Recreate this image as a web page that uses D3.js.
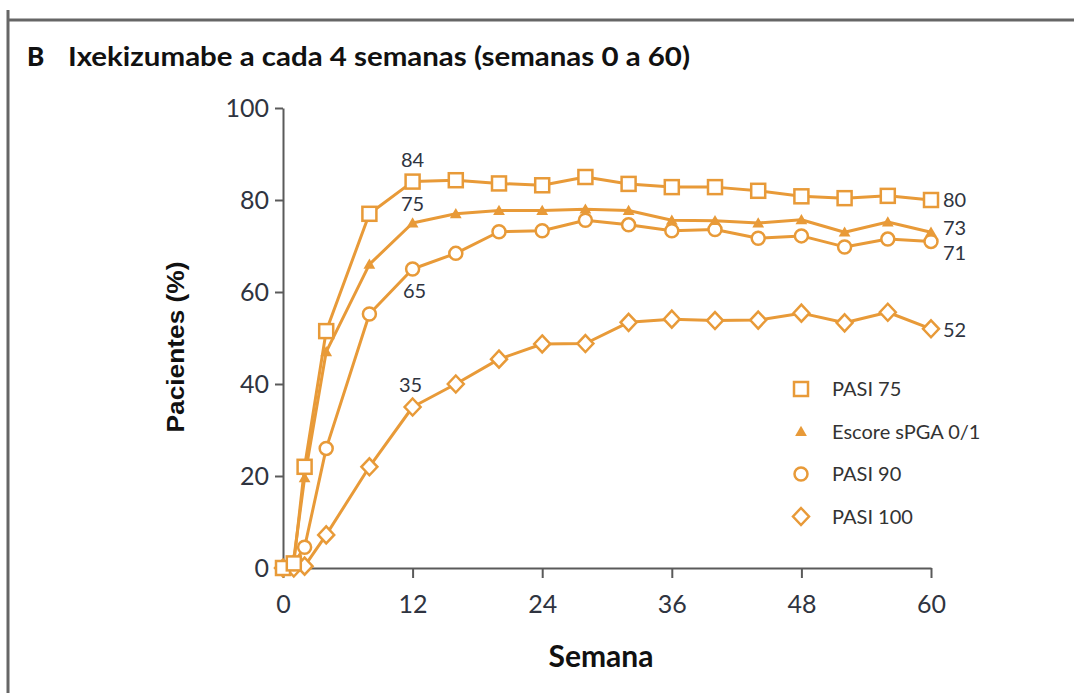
<!DOCTYPE html>
<html>
<head>
<meta charset="utf-8">
<script src="https://cdn.jsdelivr.net/npm/d3@7"></script>
<style>
  html, body { margin: 0; padding: 0; background: #fff; }
  svg { display: block; }
</style>
</head>
<body>
<svg id="chart" width="1074" height="693"></svg>
<script>
// Weeks at which each response rate was assessed
const weeks = [0, 1, 2, 4, 8, 12, 16, 20, 24, 28, 32, 36, 40, 44, 48, 52, 56, 60];

// Percentage of patients reaching each endpoint
const pasi75 = [0, 1, 22, 51.5, 77, 84, 84.3, 83.6, 83.2, 85, 83.5, 82.8, 82.8, 82, 80.8, 80.4, 80.9, 80];
const spga01 = [0, 2, 19.6, 47, 66, 75, 77, 77.7, 77.7, 78, 77.7, 75.6, 75.5, 75, 75.7, 73, 75.2, 73];
const pasi90 = [0, 1, 4.5, 26, 55.2, 65, 68.4, 73.1, 73.3, 75.6, 74.6, 73.3, 73.6, 71.7, 72.2, 69.8, 71.5, 71];
const pasi100 = [0, 0, 0.4, 7.2, 22, 35, 40, 45.4, 48.7, 48.8, 53.4, 54.1, 53.8, 53.9, 55.4, 53.3, 55.6, 52];

const seriesNames = ["PASI 75", "Escore sPGA 0/1", "PASI 90", "PASI 100"];
const seriesShapes = ["square", "triangle", "circle", "diamond"];

const xTicks = [0, 12, 24, 36, 48, 60];
const yTicks = [0, 20, 40, 60, 80, 100];

// Values printed next to selected points: [series index, week]
const callouts = [
  [0, 12], [1, 12], [2, 12], [3, 12],
  [0, 60], [1, 60], [2, 60], [3, 60]
];

const seriesValues = [pasi75, spga01, pasi90, pasi100];

const orange = "#E89A38";
const axisGrey = "#5a5a5a";
const textDark = "#2f3440";

const svg = d3.select("#chart");

// Panel frame: line across the top and down the left side
svg.append("line").attr("x1", 7).attr("x2", 1074).attr("y1", 20).attr("y2", 20)
  .attr("stroke", "#666").attr("stroke-width", 3);
svg.append("line").attr("x1", 8).attr("x2", 8).attr("y1", 10).attr("y2", 693)
  .attr("stroke", "#666").attr("stroke-width", 3);

// Title
svg.append("text").attr("x", 27).attr("y", 66)
  .attr("font-family", "Lato, sans-serif").attr("font-weight", 900)
  .attr("font-size", 26).attr("fill", "#111").text("B");
svg.append("text").attr("x", 68).attr("y", 66)
  .attr("font-family", "Lato, sans-serif").attr("font-weight", 700)
  .attr("font-size", 26).attr("fill", "#111")
  .attr("textLength", 622).attr("lengthAdjust", "spacingAndGlyphs")
  .text("Ixekizumabe a cada 4 semanas (semanas 0 a 60)");

const x = d3.scaleLinear().domain([0, 60]).range([283, 931]);
const y = d3.scaleLinear().domain([0, 100]).range([568, 108]);

// Axes
const yAxis = svg.append("g").attr("transform", "translate(283,0)")
  .call(d3.axisLeft(y).tickValues(yTicks).tickSize(8).tickPadding(6).tickSizeOuter(0));
const xAxis = svg.append("g").attr("transform", "translate(0,568)")
  .call(d3.axisBottom(x).tickValues(xTicks).tickSize(10).tickPadding(17).tickSizeOuter(0));

[yAxis, xAxis].forEach(g => {
  g.select(".domain").attr("stroke", axisGrey).attr("stroke-width", 2);
  g.selectAll(".tick line").attr("stroke", axisGrey).attr("stroke-width", 2);
  g.selectAll(".tick text").attr("fill", textDark)
    .attr("font-family", "Lato, sans-serif").attr("font-size", 25);
});

// Axis titles
svg.append("text").attr("transform", "translate(184,347) rotate(-90)")
  .attr("text-anchor", "middle")
  .attr("font-family", "'Liberation Sans', Arial, sans-serif").attr("font-weight", 700)
  .attr("font-size", 24).attr("fill", "#111")
  .attr("textLength", 171).attr("lengthAdjust", "spacingAndGlyphs")
  .text("Pacientes (%)");
svg.append("text").attr("x", 601).attr("y", 667).attr("text-anchor", "middle")
  .attr("font-family", "Lato, sans-serif").attr("font-weight", 700)
  .attr("font-size", 30).attr("fill", "#111").text("Semana");

// Marker drawing helper
function drawMarker(g, shape, cx, cy) {
  if (shape === "square") {
    g.append("rect").attr("x", cx - 7).attr("y", cy - 7)
      .attr("width", 14).attr("height", 14)
      .attr("fill", "#fff").attr("stroke", orange).attr("stroke-width", 2.5);
  } else if (shape === "triangle") {
    g.append("path")
      .attr("d", d3.symbol().type(d3.symbolTriangle).size(60)())
      .attr("transform", `translate(${cx},${cy + 1})`)
      .attr("fill", orange).attr("stroke", "none");
  } else if (shape === "circle") {
    g.append("circle").attr("cx", cx).attr("cy", cy).attr("r", 6.5)
      .attr("fill", "#fff").attr("stroke", orange).attr("stroke-width", 2.5);
  } else {
    g.append("path")
      .attr("d", `M${cx},${cy - 8.5}L${cx + 8},${cy}L${cx},${cy + 8.5}L${cx - 8},${cy}Z`)
      .attr("fill", "#fff").attr("stroke", orange).attr("stroke-width", 2.5);
  }
}

const line = d3.line().x(d => x(d[0])).y(d => y(d[1]));

// Lines first, drawn from the lowest series up
const plot = svg.append("g");
[3, 2, 1, 0].forEach(i => {
  const pts = weeks.map((w, k) => [w, seriesValues[i][k]]);
  plot.append("path").datum(pts).attr("d", line)
    .attr("fill", "none").attr("stroke", orange).attr("stroke-width", 3)
    .attr("stroke-linejoin", "round");
});
[3, 2, 1, 0].forEach(i => {
  const g = plot.append("g");
  weeks.forEach((w, k) => drawMarker(g, seriesShapes[i], x(w), y(seriesValues[i][k])));
});

// Value labels at week 12 and week 60
const labelOffsets = {
  "0-12": [0, -15, "middle"], "1-12": [0, -12, "middle"],
  "2-12": [2, 29, "middle"], "3-12": [-2, -15, "middle"],
  "0-60": [12, 7, "start"], "1-60": [12, 3, "start"], "2-60": [12, 19, "start"],
  "3-60": [12, 8, "start"]
};
callouts.forEach(([si, w]) => {
  const k = weeks.indexOf(w);
  const v = seriesValues[si][k];
  const [dx, dy, anchor] = labelOffsets[`${si}-${w}`];
  svg.append("text").attr("x", x(w) + dx).attr("y", y(v) + dy)
    .attr("text-anchor", anchor)
    .attr("font-family", "Lato, sans-serif").attr("font-size", 20)
    .attr("fill", textDark).text(Math.round(v));
});

// Legend
const legend = svg.append("g");
seriesNames.forEach((name, i) => {
  const ly = 389 + i * 42.5;
  drawMarker(legend, seriesShapes[i], 801, ly);
  legend.append("text").attr("x", 832).attr("y", ly + 7)
    .attr("font-family", "Lato, sans-serif").attr("font-size", 20)
    .attr("fill", "#333").text(name);
});
</script>
</body>
</html>
